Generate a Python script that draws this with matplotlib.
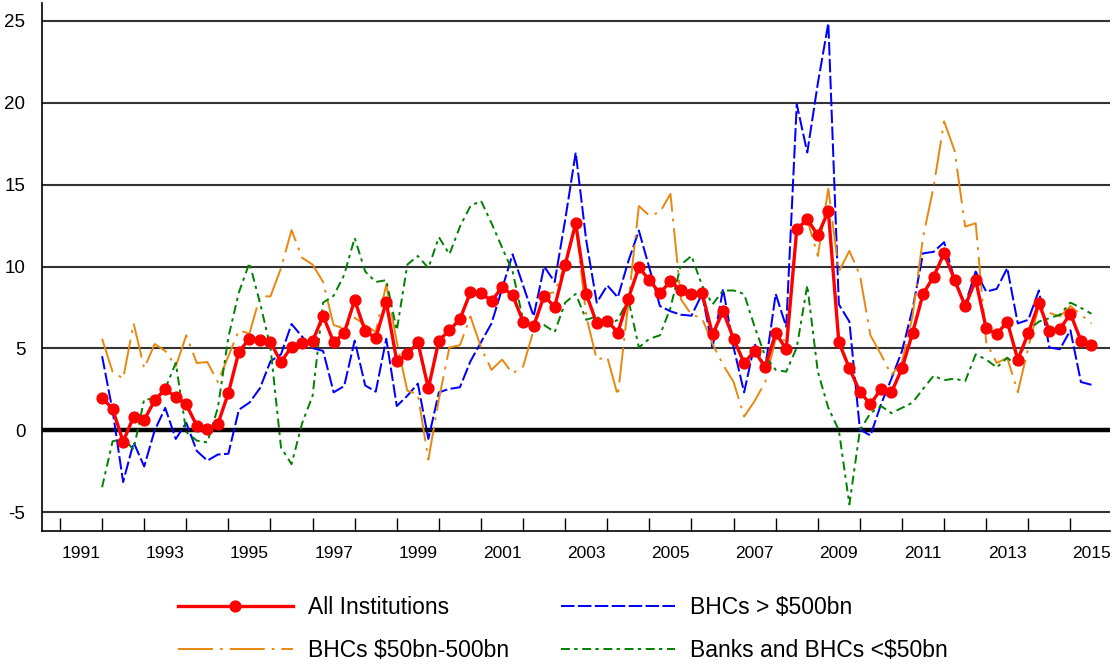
import numpy as np
import matplotlib
matplotlib.use("Agg")
from matplotlib import pyplot as plt
from matplotlib.ticker import FixedLocator, NullFormatter, FixedFormatter

plt.rcParams['font.family'] = ['Liberation Sans', 'DejaVu Sans']
plt.rcParams['axes.unicode_minus'] = False

# quarterly observations, first one plotted at the start of 1992
start_year = 1992.0
all_inst = [2.0, 1.31, -0.70, 0.84, 0.63, 1.83, 2.51, 2.04, 1.58, 0.27, 0.06, 0.38,
            2.28, 4.81, 5.59, 5.52, 5.38, 4.17, 5.10, 5.31, 5.44, 7.0, 5.38, 5.94,
            7.95, 6.05, 5.63, 7.84, 4.22, 4.64, 5.38, 2.57, 5.48, 6.11, 6.79, 8.43,
            8.39, 7.90, 8.73, 8.26, 6.64, 6.37, 8.22, 7.53, 10.12, 12.65, 8.33, 6.53,
            6.70, 5.97, 8.05, 9.95, 9.17, 8.37, 9.11, 8.54, 8.33, 8.39, 5.86, 7.27,
            5.59, 4.11, 4.85, 3.84, 5.94, 4.95, 12.27, 12.90, 11.91, 13.39, 5.38, 3.79,
            2.36, 1.58, 2.53, 2.32, 3.79, 5.94, 8.33, 9.38, 10.81, 9.17, 7.59, 9.17,
            6.22, 5.86, 6.64, 4.32, 5.94, 7.76, 6.07, 6.18, 7.12, 5.48, 5.21]
bhc_large = [4.53, 1.2, -3.16, -0.74, -2.21, 0.0, 1.37, -0.53, 0.46, -1.26, -1.85, -1.48,
             -1.43, 1.26, 1.69, 2.57, 4.22, 4.64, 6.49, 5.73, 5.02, 4.85, 2.32, 2.70,
             5.48, 2.74, 2.36, 5.59, 1.48, 2.11, 2.85, -0.53, 2.32, 2.53, 2.63, 4.22,
             5.38, 6.53, 8.64, 10.75, 8.85, 6.96, 10.01, 9.06, 12.86, 16.97, 11.59, 7.80,
             8.85, 8.12, 10.33, 12.2, 9.91, 7.59, 7.27, 7.06, 7.0, 8.33, 5.06, 8.64,
             5.06, 2.32, 5.27, 3.79, 8.33, 6.32, 19.92, 16.97, 21.18, 24.87, 7.69, 6.64,
             0.05, -0.32, 1.58, 3.16, 4.85, 7.4, 10.81, 10.90, 11.49, 9.17, 7.69, 9.70,
             8.47, 8.64, 9.91, 6.53, 6.75, 8.54, 5.06, 4.95, 6.11, 2.95, 2.78]
bhc_mid = [5.59, 3.58, 3.16, 6.53, 3.79, 5.27, 4.85, 3.9, 5.80, 4.11, 4.17, 2.95,
           4.53, 6.11, 5.9, 8.18, 8.18, 9.9, 12.23, 10.54, 10.12, 9.06, 6.43, 6.22,
           6.88, 6.43, 6.0, 8.90, 5.4, 2.42, 2.2, -1.79, 1.9, 5.06, 5.2, 6.96,
           5.06, 3.69, 4.32, 3.48, 3.9, 6.11, 8.33, 8.43, 10.12, 12.65, 6.96, 4.32,
           4.47, 2.11, 7.8, 13.70, 13.11, 13.32, 14.44, 8.0, 7.06, 6.85, 5.27, 4.0,
           2.95, 0.84, 1.79, 2.95, 5.59, 5.48, 12.33, 12.86, 10.65, 14.76, 9.70, 10.96,
           9.48, 5.8, 4.64, 3.37, 4.2, 6.96, 11.80, 14.86, 18.87, 17.07, 12.44, 12.65,
           5.38, 4.11, 4.43, 2.32, 5.06, 7.59, 7.17, 6.96, 7.59, 7.06, 6.53]
banks_small = [-3.48, -0.67, -0.53, -1.16, 1.90, 1.90, 2.53, 4.11, -0.1, -0.63, -0.74, 1.37,
               5.69, 8.43, 10.22, 7.80, 5.06, -1.05, -2.07, 0.42, 2.11, 7.80, 8.22, 9.49,
               11.75, 9.70, 9.06, 9.17, 6.1, 10.12, 10.65, 9.91, 11.80, 10.75, 12.44, 13.70,
               14.02, 12.65, 11.17, 9.70, 6.75, 6.43, 6.43, 6.0, 7.80, 8.33, 6.75, 6.96,
               6.43, 6.75, 8.0, 5.06, 5.59, 5.80, 7.48, 10.12, 10.65, 8.85, 7.69, 8.54,
               8.54, 8.33, 6.32, 4.53, 3.69, 3.58, 5.06, 8.85, 3.58, 1.37, 0.0, -4.53,
               0.0, 1.05, 1.48, 1.05, 1.37, 1.69, 2.53, 3.33, 3.06, 3.16, 2.99, 4.64,
               4.32, 3.84, 4.43, 3.90, 6.11, 6.64, 6.85, 7.06, 7.80, 7.48, 7.12]

year_ticks = np.arange(1991, 2016)
label_years = np.arange(1991, 2016, 2)

x = start_year + np.arange(len(all_inst)) / 4.0

fig = plt.figure(figsize=(11.14, 6.64), dpi=100)
ax = fig.add_axes([0.0377, 0.2003, 0.9587, 0.7952])

for v in [-5, 5, 10, 15, 20, 25]:
    ax.axhline(v, color='#333333', lw=1.5, zorder=1)
ax.axhline(0, color='black', lw=3.2, zorder=1)

l_large, = ax.plot(x, bhc_large, color='#0000ff', lw=1.45, dashes=(6.7, 1.7), label='BHCs > $500bn', zorder=3)
l_mid, = ax.plot(x, bhc_mid, color='#e8870e', lw=1.4, dashes=(18, 3.6, 1.4, 3.6), label='BHCs $50bn-500bn', zorder=3)
l_small, = ax.plot(x, banks_small, color='#008000', lw=1.4, dashes=(4.6, 2.2, 1.7, 2.4), label='Banks and BHCs <$50bn', zorder=3)
l_all, = ax.plot(x, all_inst, color='#ff0000', lw=2.4, marker='o', ms=7.8, label='All Institutions', zorder=4)

ax.set_xlim(1990.573, 2015.94)
ax.set_ylim(-6.15, 26.1)
ax.set_yticks([-5, 0, 5, 10, 15, 20, 25])
ax.tick_params(axis='y', length=0, pad=12, labelsize=13.5)

ax.xaxis.set_major_locator(FixedLocator(year_ticks))
ax.xaxis.set_major_formatter(NullFormatter())
ax.xaxis.set_minor_locator(FixedLocator(label_years + 0.5))
ax.xaxis.set_minor_formatter(FixedFormatter([str(y) for y in label_years]))
ax.tick_params(axis='x', which='major', direction='in', length=9.5, width=1, color='black')
ax.tick_params(axis='x', which='minor', length=0, pad=11, labelsize=12.5)

for s in ['top', 'right']:
    ax.spines[s].set_visible(False)
ax.spines['left'].set_color('black')
ax.spines['bottom'].set_color('black')
ax.spines['left'].set_linewidth(1.2)
ax.spines['bottom'].set_linewidth(1.2)

# ncol=2 fills column by column
fig.legend([l_all, l_mid, l_large, l_small],
           [l.get_label() for l in [l_all, l_mid, l_large, l_small]],
           loc='center', bbox_to_anchor=(0.5055, 0.0525), ncol=2, frameon=False,
           fontsize=16.5, handlelength=5.0, handletextpad=0.65, columnspacing=2.27,
           labelspacing=0.86, numpoints=1)

fig.savefig('out.png', dpi=100)
